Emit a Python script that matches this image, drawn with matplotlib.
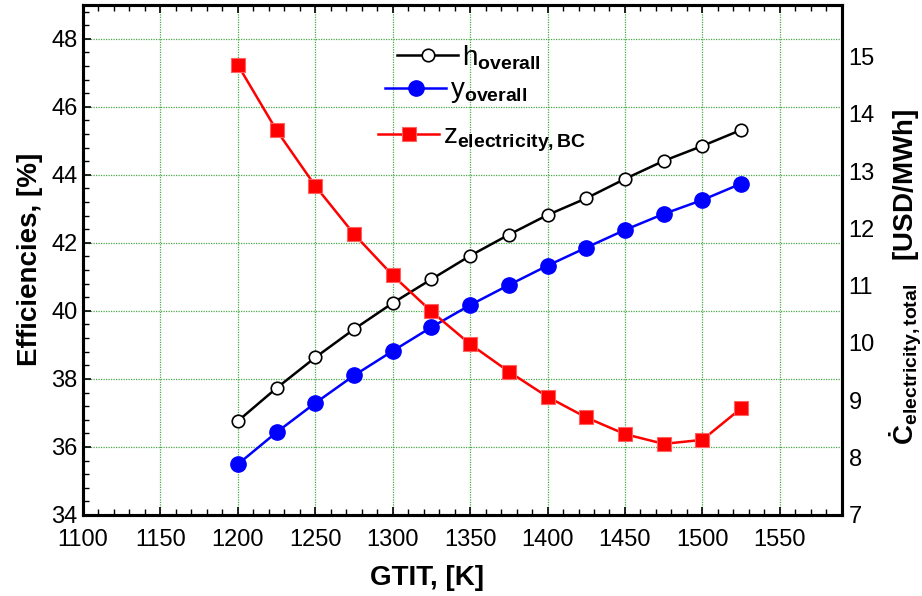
import matplotlib
matplotlib.use("Agg")
import matplotlib.pyplot as plt
from matplotlib.ticker import MultipleLocator

plt.rcParams['font.family'] = ['Liberation Sans', 'DejaVu Sans']
plt.rcParams['mathtext.fontset'] = 'custom'
plt.rcParams['mathtext.rm'] = 'Liberation Sans'
plt.rcParams['mathtext.bf'] = 'Liberation Sans:bold'
plt.rcParams['mathtext.it'] = 'Liberation Sans:italic'

# ---- data ----
gtit = [1200, 1225, 1250, 1275, 1300, 1325, 1350, 1375, 1400, 1425, 1450, 1475, 1500, 1525]
eta_overall = [36.76, 37.73, 38.63, 39.46, 40.23, 40.93, 41.62, 42.24, 42.82, 43.31,
               43.88, 44.41, 44.85, 45.32]
psi_overall = [35.49, 36.43, 37.29, 38.10, 38.82, 39.52, 40.17, 40.76, 41.33, 41.86,
               42.38, 42.85, 43.26, 43.74]
z_elec_bc = [14.85, 13.71, 12.74, 11.90, 11.18, 10.55, 9.98, 9.50, 9.06, 8.70,
             8.41, 8.24, 8.31, 8.86]

x_ticks = [1100, 1150, 1200, 1250, 1300, 1350, 1400, 1450, 1500, 1550]
left_ticks = [34, 36, 38, 40, 42, 44, 46, 48]
right_ticks = [7, 8, 9, 10, 11, 12, 13, 14, 15]

label_eta = r'h$_{\mathbf{overall}}$'
label_psi = r'y$_{\mathbf{overall}}$'
label_z = r'z$_{\mathbf{electricity,BC}}$'

fig = plt.figure(figsize=(9.22, 5.96), dpi=100)
ax = fig.add_axes([0.090, 0.136, 0.823, 0.856])
ax2 = ax.twinx()

grid_color = '#4aa84a'
ax.set_xlim(1100, 1590)
ax.set_ylim(34, 49)
ax2.set_ylim(7, 15.9)
ax.set_xticks(x_ticks)
ax.set_yticks(left_ticks)
ax2.set_yticks(right_ticks)
ax.xaxis.set_minor_locator(MultipleLocator(10))
ax.yaxis.set_minor_locator(MultipleLocator(0.4))
ax.grid(True, which='major', color=grid_color, linestyle=(0, (1, 1)), linewidth=0.9)
ax.set_axisbelow(True)

ax.tick_params(axis='both', which='major', direction='in', length=6, width=1.2,
               labelsize=17, top=True, right=False)
ax.tick_params(axis='x', which='major', pad=10)
ax.tick_params(axis='y', which='major', pad=4)
ax.tick_params(axis='both', which='minor', direction='in', length=4, width=1.0,
               top=True, right=False)
ax2.tick_params(axis='y', which='both', length=0, labelsize=17, pad=5)

for a in (ax, ax2):
    for s in a.spines.values():
        s.set_linewidth(2.2)

l1, = ax.plot(gtit, eta_overall, color='black', lw=1.8, marker='o', ms=9,
              mfc='white', mec='black', mew=1.2, zorder=3)
l2, = ax.plot(gtit, psi_overall, color='blue', lw=1.8, marker='o', ms=11,
              mfc='blue', mec='blue', zorder=3)
l3, = ax2.plot(gtit, z_elec_bc, color='red', lw=1.8, marker='s', ms=10,
               mfc='red', mec='#ff6060', mew=0.8, zorder=3)

ax.set_xlabel('GTIT, [K]', fontsize=20, fontweight='bold')
ax.xaxis.set_label_coords(0.453, -0.098)
ax.set_ylabel('Efficiencies, [%]', fontsize=20, fontweight='bold', labelpad=6)
ax2.set_ylabel(r'Ċ$_{\mathbf{electricity,total}}$   [USD/MWh]', fontsize=20,
               fontweight='bold')
ax2.yaxis.set_label_coords(1.060, 0.467)

leg_kw = dict(frameon=False, fontsize=20, handlelength=2.2, handletextpad=0.15,
              borderaxespad=0, borderpad=0, loc='center left')
lg1 = ax2.legend([l1], [label_eta], bbox_to_anchor=(0.414, 0.897), **leg_kw)
ax2.add_artist(lg1)
lg2 = ax2.legend([l2], [label_psi], bbox_to_anchor=(0.398, 0.830), **leg_kw)
ax2.add_artist(lg2)
lg3 = ax2.legend([l3], [label_z], bbox_to_anchor=(0.389, 0.737), **leg_kw)

fig.savefig('out.png', dpi=100)
